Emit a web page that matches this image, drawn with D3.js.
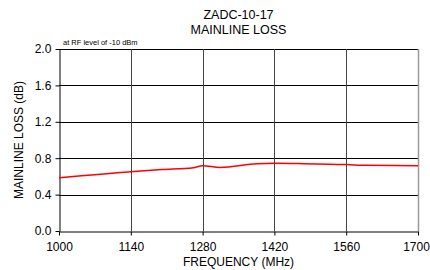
<!DOCTYPE html>
<html>
<head>
<meta charset="utf-8">
<script src="https://cdn.jsdelivr.net/npm/d3@7"></script>
<style>
  body { margin: 0; background: #fff; }
  svg { display: block; font-family: "Liberation Sans", Arial, sans-serif; }
</style>
</head>
<body>
<div id="chart"></div>
<script>
// Mainline loss vs frequency
const freqs = [1000, 1140, 1200, 1262, 1280, 1314, 1386, 1420, 1477, 1560, 1600, 1700];
const loss  = [0.585, 0.652, 0.675, 0.696, 0.718, 0.698, 0.738, 0.744, 0.740, 0.730, 0.722, 0.718];
const xTicks = [1000, 1140, 1280, 1420, 1560, 1700];
const yTicks = [0.0, 0.4, 0.8, 1.2, 1.6, 2.0];

const width = 430, height = 270;
const margin = { top: 49, right: 12, bottom: 39, left: 59 };

const svg = d3.select("#chart").append("svg")
  .attr("width", width)
  .attr("height", height);

const x = d3.scaleLinear().domain([1000, 1700]).range([margin.left, width - margin.right]);
const y = d3.scaleLinear().domain([0, 2]).range([height - margin.bottom, margin.top]);

// gridlines
svg.append("g")
  .selectAll("line")
  .data(yTicks.slice(1))
  .join("line")
  .attr("x1", x(1000)).attr("x2", x(1700))
  .attr("y1", d => Math.round(y(d)) + 0.5).attr("y2", d => Math.round(y(d)) + 0.5)
  .attr("stroke", "#000").attr("stroke-width", 1);

svg.append("g")
  .selectAll("line")
  .data(xTicks.slice(1))
  .join("line")
  .attr("x1", d => Math.round(x(d)) + 0.5).attr("x2", d => Math.round(x(d)) + 0.5)
  .attr("y1", y(2)).attr("y2", y(0))
  .attr("stroke", d => d === 1700 ? "#999" : "#444")
  .attr("stroke-width", d => d === 1700 ? 1.5 : 1);

// axes
const xAxis = svg.append("g")
  .attr("transform", `translate(0,${Math.round(y(0)) + 0.5})`)
  .call(d3.axisBottom(x).tickValues(xTicks).tickFormat(d3.format("d")).tickSize(4).tickSizeOuter(0));
xAxis.select(".domain").attr("stroke", "#000");
xAxis.selectAll("text").attr("font-size", 12).attr("fill", "#000").attr("dy", "1.0em")
  .attr("dx", d => d === 1700 ? -2 : 0);

const yAxis = svg.append("g")
  .attr("transform", `translate(${Math.round(x(1000)) + 0.5},0)`)
  .call(d3.axisLeft(y).tickValues(yTicks).tickFormat(d3.format(".1f")).tickSize(4).tickSizeOuter(0));
yAxis.select(".domain").attr("stroke", "#000");
yAxis.selectAll("text").attr("font-size", 12).attr("fill", "#000").attr("dx", "-0.1em");

// data line
const line = d3.line()
  .x((d, i) => x(freqs[i]))
  .y(d => y(d))
  .curve(d3.curveMonotoneX);

svg.append("path")
  .datum(loss)
  .attr("d", line)
  .attr("fill", "none")
  .attr("stroke", "#ff0000")
  .attr("stroke-width", 1.5);

// titles
const cx = (x(1000) + x(1700)) / 2;
svg.append("text").attr("x", cx).attr("y", 19).attr("text-anchor", "middle")
  .attr("font-size", 12.5).text("ZADC-10-17");
svg.append("text").attr("x", cx).attr("y", 34).attr("text-anchor", "middle")
  .attr("font-size", 12.5).text("MAINLINE LOSS");
svg.append("text").attr("x", 63).attr("y", 45)
  .attr("font-size", 7.5).text("at RF level of -10 dBm");

svg.append("text").attr("x", cx).attr("y", 266).attr("text-anchor", "middle")
  .attr("font-size", 12).text("FREQUENCY (MHz)");
svg.append("text")
  .attr("transform", `translate(23,${(y(0) + y(2)) / 2}) rotate(-90)`)
  .attr("text-anchor", "middle")
  .attr("font-size", 12).text("MAINLINE LOSS (dB)");
</script>
</body>
</html>
